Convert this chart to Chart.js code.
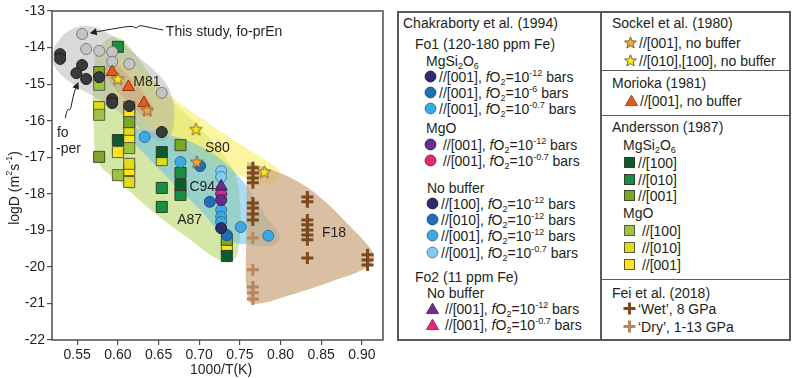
<!DOCTYPE html>
<html>
<head>
<meta charset="utf-8">
<script src="https://cdn.jsdelivr.net/npm/chart.js@4.4.1/dist/chart.umd.min.js"></script>
<style>
  body { margin: 0; background: #fff; font-family: "Liberation Sans", Arial, sans-serif; color: #231f20; }
  #wrap { position: relative; width: 793px; height: 378px; overflow: hidden; }
  #plot { position: absolute; left: 0; top: 0; }
  .row { position: absolute; height: 16px; line-height: 16px; font-size: 14px; white-space: nowrap; }
  .row svg { vertical-align: -1px; margin-right: 2px; }
  sub, sup { font-size: 9px; line-height: 0; }
  sub { vertical-align: -3px; }
  sup { vertical-align: 6px; }
  .rule { position: absolute; background: #5a5a5a; }
</style>
</head>
<body>
<div id="wrap">
  <canvas id="plot" width="395" height="378"></canvas>
  <div id="legend"></div>
</div>
<script>
const xTicks = [0.55, 0.60, 0.65, 0.70, 0.75, 0.80, 0.85, 0.90];
const yTicks = [-13, -14, -15, -16, -17, -18, -19, -20, -21, -22];

// this study
const foPrEnX = [0.556, 0.561, 0.577, 0.593, 0.593, 0.614, 0.654];
const foPrEnY = [-13.63, -14.04, -14.09, -14.12, -14.39, -14.45, -15.24];
const foPerX = [0.529, 0.529, 0.556, 0.549, 0.561, 0.577, 0.593, 0.593, 0.614, 0.654];
const foPerY = [-14.18, -14.31, -14.48, -14.70, -14.86, -14.81, -15.41, -15.52, -15.60, -16.31];

// Morioka (1981)
const moriokaX = [0.593, 0.613, 0.632];
const moriokaY = [-14.67, -15.08, -15.52];

// Sockel et al. (1980)
const sockel001X = [0.636, 0.697];
const sockel001Y = [-15.71, -17.13];
const sockel010X = [0.600, 0.696, 0.780];
const sockel010Y = [-14.86, -16.23, -17.40];

// Chakraborty et al. (1994), Fo1
const chakEn12X = [0.727];
const chakEn12Y = [-18.94];
const chakEn6X = [0.701, 0.713, 0.734];
const chakEn6Y = [-17.24, -18.22, -19.13];
const chakEn07X = [0.633, 0.677, 0.751, 0.785];
const chakEn07Y = [-16.45, -17.13, -18.91, -19.15];
const chakPer12X = [0.727];
const chakPer12Y = [-18.17];
const chakPer07X = [0.727];
const chakPer07Y = [-18.00];
const chakNb12X = [0.727, 0.727, 0.727];
const chakNb12Y = [-18.44, -18.63, -18.77];
const chakNb07X = [0.727, 0.727];
const chakNb07Y = [-17.38, -17.54];
// Fo2
const chakFo2_12X = [0.727];
const chakFo2_12Y = [-17.80];
const chakFo2_07X = [0.727];
const chakFo2_07Y = [-17.92];

// Andersson (1987)
const andEn100X = [0.600, 0.654, 0.677, 0.734];
const andEn100Y = [-16.53, -16.86, -17.76, -19.70];
const andEn010X = [0.600, 0.654, 0.654, 0.677, 0.677];
const andEn010Y = [-13.98, -17.84, -18.36, -17.43, -18.03];
const andEn001X = [0.577, 0.577, 0.614, 0.677, 0.734];
const andEn001Y = [-14.67, -16.99, -16.04, -16.67, -19.26];
const andPer100X = [0.577, 0.577, 0.600, 0.614];
const andPer100Y = [-15.02, -15.84, -17.49, -16.75];
const andPer010X = [0.577, 0.614, 0.614, 0.614, 0.654];
const andPer010Y = [-15.63, -16.25, -17.18, -17.68, -17.08];
const andPer001X = [0.614, 0.614, 0.614, 0.614, 0.600, 0.734];
const andPer001Y = [-15.63, -15.79, -16.50, -17.35, -16.86, -19.46];

// Fei et al. (2018)
const feiWetX = [0.766, 0.766, 0.766, 0.766, 0.766, 0.766, 0.766, 0.766,
  0.833, 0.833, 0.833, 0.833, 0.833, 0.833, 0.833, 0.833, 0.907, 0.907, 0.907];
const feiWetY = [-17.29, -17.43, -17.57, -17.70, -18.25, -18.39, -18.55, -18.72,
  -18.09, -18.22, -18.72, -18.85, -18.99, -19.13, -19.26, -19.76, -19.67, -19.81, -19.95];
const feiDryX = [0.766, 0.766, 0.766, 0.766, 0.766];
const feiDryY = [-19.21, -20.08, -20.55, -20.71, -20.88];

// shaded fields around each data set
const zoneGreyX = [0.523, 0.539, 0.564, 0.593, 0.627, 0.654, 0.667, 0.669, 0.662, 0.646, 0.615, 0.578, 0.548, 0.527, 0.519];
const zoneGreyY = [-13.93, -13.55, -13.41, -13.68, -14.29, -14.83, -15.38, -16.04, -16.47, -16.53, -15.98, -15.43, -15.05, -14.67, -14.29];
const zoneM81X = [0.585, 0.597, 0.641, 0.642, 0.632, 0.588];
const zoneM81Y = [-14.50, -14.45, -15.52, -15.85, -15.88, -14.88];
const zoneS80X = [0.590, 0.609, 0.677, 0.738, 0.787, 0.799, 0.792, 0.769, 0.726, 0.677, 0.627, 0.593, 0.586];
const zoneS80Y = [-14.39, -14.39, -15.54, -16.47, -17.16, -17.40, -17.68, -17.62, -17.29, -16.67, -15.93, -15.11, -14.67];
const zoneA87X = [0.572, 0.584, 0.598, 0.615, 0.652, 0.701, 0.740, 0.750, 0.748, 0.738, 0.720, 0.689, 0.640, 0.603, 0.576, 0.570, 0.570];
const zoneA87Y = [-14.20, -13.82, -13.71, -14.01, -15.11, -16.20, -17.29, -18.17, -19.54, -19.87, -19.76, -19.26, -18.44, -17.68, -17.13, -15.98, -14.75];
const zoneC94X = [0.621, 0.652, 0.689, 0.728, 0.759, 0.781, 0.799, 0.792, 0.763, 0.736, 0.701, 0.664, 0.634, 0.619];
const zoneC94Y = [-16.20, -16.34, -16.58, -17.08, -17.81, -18.58, -19.15, -19.40, -19.40, -19.26, -18.44, -17.62, -16.94, -16.53];
const zoneF18X = [0.759, 0.790, 0.824, 0.855, 0.885, 0.908, 0.915, 0.905, 0.861, 0.812, 0.772, 0.760, 0.758];
const zoneF18Y = [-17.13, -17.35, -17.70, -18.22, -18.88, -19.43, -19.76, -20.03, -20.41, -20.77, -21.01, -20.90, -18.99];

const FONT = '"Liberation Sans", Arial, sans-serif';
const INK = '#231f20';

function pts(xs, ys) {
  return xs.map((x, i) => ({ x: x, y: ys[i] }));
}

function zone(xs, ys, color, order) {
  const data = pts(xs, ys);
  data.push(data[0]);
  return {
    type: 'line', data: data, fill: 'shape', backgroundColor: color,
    borderColor: 'transparent', borderWidth: 0, pointRadius: 0, tension: 0.4, order: order
  };
}

function marks(label, xs, ys, style, fill, edge, radius, width) {
  return {
    label: label, data: pts(xs, ys), pointStyle: style, backgroundColor: fill,
    borderColor: edge, borderWidth: width, pointRadius: radius, order: 0
  };
}

function starPoints(cx, cy, outer, inner) {
  const p = [];
  for (let i = 0; i < 10; i++) {
    const r = i % 2 ? inner : outer;
    const a = -Math.PI / 2 + i * Math.PI / 5;
    p.push([cx + r * Math.cos(a), cy + r * Math.sin(a)]);
  }
  return p;
}

function starImage(fill) {
  const c = document.createElement('canvas');
  c.width = 15; c.height = 15;
  const g = c.getContext('2d');
  g.beginPath();
  starPoints(7.5, 8, 6.6, 2.9).forEach(p => g.lineTo(p[0], p[1]));
  g.closePath();
  g.fillStyle = fill; g.fill();
  g.strokeStyle = '#6b5a2a'; g.lineWidth = 0.9; g.stroke();
  return c;
}

const C = {
  navy: '#2b2d6e', mid: '#2070b8', light: '#3aaae2', pale: '#7dcdef',
  purple: '#6a2c8e', pink: '#e2297a', morioka: '#e65a22',
  orangeStar: '#f3a33b', yellowStar: '#f7e51d',
  greyLight: '#c4c4c4', greyDark: '#3a3a3a',
  dg: '#0d5a2c', g: '#16903f', olive: '#7ea728', yg: '#9cc43d', y010: '#dedc1c', y001: '#fce51c',
  wet: '#7b4a1f', dry: '#b8875a'
};

const datasets = [
  marks('Sockel [001]', sockel001X, sockel001Y, starImage(C.orangeStar), C.orangeStar, '#6b5a2a', 7, 1),
  marks('Sockel [010],[100]', sockel010X, sockel010Y, starImage(C.yellowStar), C.yellowStar, '#6b5a2a', 7, 1),
  marks('Morioka', moriokaX, moriokaY, 'triangle', C.morioka, '#8a3510', 7, 1),
  marks('Fo2 fO2=1e-12', chakFo2_12X, chakFo2_12Y, 'triangle', C.purple, '#3b1858', 7, 1),
  marks('Fo2 fO2=1e-0.7', chakFo2_07X, chakFo2_07Y, 'triangle', C.pink, '#6a2c8e', 7, 1),
  marks('fo-prEn', foPrEnX, foPrEnY, 'circle', C.greyLight, '#7d7d7d', 5.5, 1),
  marks('fo-per', foPerX, foPerY, 'circle', C.greyDark, '#1e1e1e', 5.5, 1),
  marks('MgSi2O6 1e-12', chakEn12X, chakEn12Y, 'circle', C.navy, '#1a1a40', 5.5, 1),
  marks('MgSi2O6 1e-6', chakEn6X, chakEn6Y, 'circle', C.mid, '#1f4d80', 5.5, 1),
  marks('MgSi2O6 1e-0.7', chakEn07X, chakEn07Y, 'circle', C.light, '#3d6f93', 5.5, 1),
  marks('MgO 1e-12', chakPer12X, chakPer12Y, 'circle', C.purple, '#3b1858', 5.5, 1),
  marks('MgO 1e-0.7', chakPer07X, chakPer07Y, 'circle', C.pink, '#7a1c48', 5.5, 1),
  marks('No buffer 1e-12', chakNb12X, chakNb12Y, 'circle', C.light, '#3d6f93', 5.5, 1),
  marks('No buffer 1e-0.7', chakNb07X, chakNb07Y, 'circle', C.pale, '#5b7f96', 5.5, 1),
  marks('And En [100]', andEn100X, andEn100Y, 'rect', C.dg, '#333d30', 7.8, 1),
  marks('And En [010]', andEn010X, andEn010Y, 'rect', C.g, '#333d30', 7.8, 1),
  marks('And En [001]', andEn001X, andEn001Y, 'rect', C.olive, '#454a30', 7.8, 1),
  marks('And Per [100]', andPer100X, andPer100Y, 'rect', C.yg, '#5a5e48', 7.8, 1),
  marks('And Per [010]', andPer010X, andPer010Y, 'rect', C.y010, '#5a5a3a', 7.8, 1),
  marks('And Per [001]', andPer001X, andPer001Y, 'rect', C.y001, '#5a5a3a', 7.8, 1),
  marks('Fei wet', feiWetX, feiWetY, 'cross', C.wet, C.wet, 6, 3),
  marks('Fei dry', feiDryX, feiDryY, 'cross', C.dry, C.dry, 6, 3),
  zone(zoneF18X, zoneF18Y, 'rgba(204,164,122,0.7)', 11),
  zone(zoneC94X, zoneC94Y, 'rgba(90,188,232,0.5)', 12),
  zone(zoneGreyX, zoneGreyY, 'rgba(170,170,170,0.45)', 13),
  zone(zoneM81X, zoneM81Y, 'rgba(235,150,100,0.55)', 14),
  zone(zoneS80X, zoneS80Y, 'rgba(250,238,100,0.6)', 15),
  zone(zoneA87X, zoneA87Y, 'rgba(172,208,80,0.5)', 16)
];

// labels, arrows, frame and axis titles
const notesPlugin = {
  id: 'notes',
  afterDraw(chart) {
    const ctx = chart.ctx;
    const xs = chart.scales.x, ys = chart.scales.y;
    const px = v => xs.getPixelForValue(v), py = v => ys.getPixelForValue(v);
    const a = chart.chartArea;

    ctx.save();
    ctx.strokeStyle = '#4d4d4d';
    ctx.lineWidth = 1.5;
    ctx.strokeRect(a.left, a.top, a.right - a.left, a.bottom - a.top);

    ctx.fillStyle = INK;
    ctx.font = '14px ' + FONT;
    ctx.textBaseline = 'middle';
    ctx.textAlign = 'left';
    [['M81', 0.619, -14.94], ['S80', 0.707, -16.75], ['C94', 0.688, -17.81],
     ['A87', 0.673, -18.72], ['F18', 0.851, -19.07], ['This study, fo-prEn', 0.659, -13.57],
     ['fo', 0.525, -16.34], ['-per', 0.524, -16.77]].forEach(n => ctx.fillText(n[0], px(n[1]), py(n[2])));

    const arrows = [
      [[0.6557, -13.52], [0.636, -13.44], [0.6262, -13.38], [0.6225, -13.49], [0.6188, -13.41], [0.6065, -13.44], [0.5783, -13.55], [0.5690, -13.59]],
      [[0.5353, -15.93], [0.5377, -15.65], [0.5414, -15.74], [0.5439, -15.46], [0.5463, -15.22], [0.5500, -15.02]]
    ];
    ctx.strokeStyle = INK;
    ctx.lineWidth = 1;
    ctx.lineJoin = 'round';
    arrows.forEach(path => {
      const p = path.map(q => [px(q[0]), py(q[1])]);
      ctx.beginPath();
      ctx.moveTo(p[0][0], p[0][1]);
      for (let i = 1; i < p.length - 1; i++) {
        const mx = (p[i][0] + p[i + 1][0]) / 2, my = (p[i][1] + p[i + 1][1]) / 2;
        ctx.quadraticCurveTo(p[i][0], p[i][1], mx, my);
      }
      const tip = p[p.length - 1], prev = p[p.length - 2];
      ctx.lineTo(tip[0], tip[1]);
      ctx.stroke();
      const ang = Math.atan2(tip[1] - prev[1], tip[0] - prev[0]);
      ctx.beginPath();
      ctx.moveTo(tip[0] + 3 * Math.cos(ang), tip[1] + 3 * Math.sin(ang));
      ctx.lineTo(tip[0] - 4 * Math.cos(ang) + 3.5 * Math.sin(ang), tip[1] - 4 * Math.sin(ang) - 3.5 * Math.cos(ang));
      ctx.lineTo(tip[0] - 4 * Math.cos(ang) - 3.5 * Math.sin(ang), tip[1] - 4 * Math.sin(ang) + 3.5 * Math.cos(ang));
      ctx.closePath();
      ctx.fill();
    });

    // x title
    ctx.textAlign = 'center';
    ctx.fillText('1000/T(K)', 221, 370);

    // y title with superscripts
    const parts = [['logD (m', 0], ['2', 1], ['s', 0], ['-1', 1], [')', 0]];
    const big = '14px ' + FONT, small = '9px ' + FONT;
    let total = 0;
    parts.forEach(s => { ctx.font = s[1] ? small : big; total += ctx.measureText(s[0]).width; });
    ctx.translate(15, 188);
    ctx.rotate(-Math.PI / 2);
    ctx.textAlign = 'left';
    let x = -total / 2;
    parts.forEach(s => {
      ctx.font = s[1] ? small : big;
      ctx.fillText(s[0], x, s[1] ? -5 : 0);
      x += ctx.measureText(s[0]).width;
    });
    ctx.restore();
  }
};

new Chart(document.getElementById('plot'), {
  type: 'scatter',
  data: { datasets: datasets },
  options: {
    responsive: false,
    animation: false,
    layout: { padding: { top: 11, right: 12, left: 0, bottom: 0 } },
    plugins: { legend: { display: false }, tooltip: { enabled: false } },
    scales: {
      x: {
        type: 'linear', min: 0.519, max: 0.926,
        afterBuildTicks: s => { s.ticks = xTicks.map(v => ({ value: v })); },
        afterFit: s => { s.height = 38; },
        ticks: { color: INK, font: { size: 14, family: FONT }, padding: 2, autoSkip: false, maxRotation: 0, callback: v => v.toFixed(2) },
        grid: { drawOnChartArea: false, tickLength: 5, color: '#4d4d4d', lineWidth: 1.2 },
        border: { display: false }
      },
      y: {
        type: 'linear', min: -22, max: -13,
        afterBuildTicks: s => { s.ticks = yTicks.map(v => ({ value: v })); },
        afterFit: s => { s.width = 52; },
        ticks: { color: INK, font: { size: 14, family: FONT }, padding: 2, autoSkip: false, callback: v => String(v) },
        grid: { drawOnChartArea: false, tickLength: 5, color: '#4d4d4d', lineWidth: 1.2 },
        border: { display: false }
      }
    }
  },
  plugins: [notesPlugin]
});

// legend panels
function svgMarker(shape, fill, edge) {
  let inner = '';
  if (shape === 'circle') inner = `<circle cx="6.5" cy="6.5" r="5.4" fill="${fill}" stroke="${edge}" stroke-width="1"/>`;
  if (shape === 'square') inner = `<rect x="1.5" y="1.5" width="10" height="10" fill="${fill}" stroke="${edge}" stroke-width="1"/>`;
  if (shape === 'triangle') inner = `<polygon points="6.5,1.2 12.6,11.6 0.4,11.6" fill="${fill}" stroke="${edge}" stroke-width="0.8"/>`;
  if (shape === 'star') inner = `<polygon points="${starPoints(6.5, 7, 6.2, 2.7).map(p => p.join(',')).join(' ')}" fill="${fill}" stroke="#6b5a2a" stroke-width="0.9"/>`;
  if (shape === 'cross') inner = `<path d="M6.5 0.5V12.5M0.5 6.5H12.5" stroke="${fill}" stroke-width="3"/>`;
  return `<svg width="13" height="13" viewBox="0 0 13 13">${inner}</svg>`;
}

const fO2 = p => `<i>f</i>O<sub>2</sub>=10<sup>${p}</sup> bars`;
const enstatite = 'MgSi<sub>2</sub>O<sub>6</sub>';

const legendRows = [
  [403, 23, 'Chakraborty et al. (1994)'],
  [415, 44, 'Fo1 (120-180 ppm Fe)'],
  [426, 61, enstatite],
  [424, 77, svgMarker('circle', C.navy, '#1a1a40') + '//[001], ' + fO2('-12')],
  [424, 93, svgMarker('circle', C.mid, '#1f4d80') + '//[001], ' + fO2('-6')],
  [424, 109, svgMarker('circle', C.light, '#3d6f93') + '//[001], ' + fO2('-0.7')],
  [426, 128, 'MgO'],
  [424, 145, svgMarker('circle', C.purple, '#3b1858') + '&nbsp;//[001], ' + fO2('-12')],
  [424, 161, svgMarker('circle', C.pink, '#7a1c48') + '&nbsp;//[001], ' + fO2('-0.7')],
  [427, 188, 'No buffer'],
  [426, 204, svgMarker('circle', C.navy, '#1a1a40') + '//[100], ' + fO2('-12')],
  [426, 220, svgMarker('circle', C.mid, '#1f4d80') + '//[010], ' + fO2('-12')],
  [426, 236, svgMarker('circle', C.light, '#3d6f93') + '//[001], ' + fO2('-12')],
  [426, 253, svgMarker('circle', C.pale, '#5b7f96') + '//[001], ' + fO2('-0.7')],
  [415, 277, 'Fo2 (11 ppm Fe)'],
  [427, 293, 'No buffer'],
  [426, 309, svgMarker('triangle', C.purple, '#3b1858') + '&nbsp;//[001], ' + fO2('-12')],
  [426, 325, svgMarker('triangle', C.pink, '#8a1a50') + '&nbsp;//[001], ' + fO2('-0.7')],

  [612, 23, 'Sockel et al. (1980)'],
  [624, 43, svgMarker('star', C.orangeStar) + '//[001], no buffer'],
  [624, 61, svgMarker('star', C.yellowStar) + '//[010],[100], no buffer'],
  [612, 83, 'Morioka (1981)'],
  [625, 101, svgMarker('triangle', C.morioka, '#8a3510') + '//[001], no buffer'],
  [612, 127, 'Andersson (1987)'],
  [623, 145, enstatite],
  [623, 163, svgMarker('square', C.dg, '#333d30') + '//[100]'],
  [623, 180, svgMarker('square', C.g, '#333d30') + '//[010]'],
  [623, 196, svgMarker('square', C.olive, '#454a30') + '//[001]'],
  [623, 213, 'MgO'],
  [623, 231, svgMarker('square', C.yg, '#5a5e48') + '&nbsp;//[100]'],
  [623, 248, svgMarker('square', C.y010, '#5a5a3a') + '&nbsp;//[010]'],
  [623, 265, svgMarker('square', C.y001, '#5a5a3a') + '&nbsp;//[001]'],
  [612, 293, 'Fei et al. (2018)'],
  [623, 309, svgMarker('cross', C.wet) + '\u2018Wet\u2019, 8 GPa'],
  [623, 327, svgMarker('cross', C.dry) + '\u2018Dry\u2019, 1-13 GPa']
];

const rules = [
  [397, 11, 393, 1.5], [397, 339, 393, 1.5], [397, 11, 1.5, 329.5], [789, 11, 1.5, 329.5],
  [600, 11, 1.5, 329.5], [600, 69.5, 190, 1.5], [600, 114.5, 190, 1.5], [600, 278.5, 190, 1.5]
];

const legend = document.getElementById('legend');
let html = '';
rules.forEach(r => {
  html += `<div class="rule" style="left:${r[0]}px;top:${r[1]}px;width:${r[2]}px;height:${r[3]}px"></div>`;
});
legendRows.forEach(r => {
  html += `<div class="row" style="left:${r[0]}px;top:${r[1] - 8}px">${r[2]}</div>`;
});
legend.innerHTML = html;
</script>
</body>
</html>
